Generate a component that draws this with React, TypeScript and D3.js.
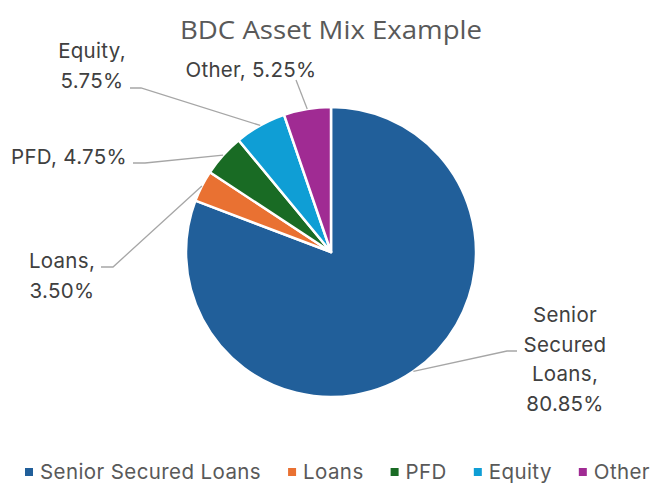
import React, { useRef, useEffect } from 'react';
import * as d3 from 'd3';

const categories = ['Senior Secured Loans', 'Loans', 'PFD', 'Equity', 'Other'];
const shares = [80.85, 3.5, 4.75, 5.75, 5.25];
const colors = ['#215F9A', '#E97132', '#196B24', '#0F9ED5', '#A02B93'];
// label text lines (as shown on the chart)
const labelLines = [
  ['Senior', 'Secured', 'Loans,', '80.85%'],
  ['Loans,', '3.50%'],
  ['PFD, 4.75%'],
  ['Equity,', '5.75%'],
  ['Other, 5.25%'],
];

// label placement: text anchor point + leader elbow
const labelLayout = [
  { x: 565, y: 315, anchor: 'middle', elbow: [517, 351], bend: [507, 351] },
  { x: 62, y: 261, anchor: 'middle', elbow: [101, 267], bend: [113, 267] },
  { x: 69, y: 157, anchor: 'middle', elbow: [133, 163], bend: [145, 163] },
  { x: 92, y: 51, anchor: 'middle', elbow: [130, 88], bend: [141, 88] },
  { x: 251, y: 70, anchor: 'middle', elbow: [296, 80], bend: [296, 80] },
];

const W = 652;
const H = 483;
const FONT = 'Inter, sans-serif';

const App = () => {
  const svgRef = useRef(null);

  useEffect(() => {
    const svg = d3.select(svgRef.current);
    svg.selectAll('*').remove();

    const cx = 331;
    const cy = 252;
    const r = 145;

    svg
      .append('text')
      .attr('x', cx)
      .attr('y', 39)
      .attr('text-anchor', 'middle')
      .attr('font-family', 'Open Sans, sans-serif')
      .attr('font-size', 26)
      .attr('fill', '#595959')
      .attr('textLength', 302)
      .attr('lengthAdjust', 'spacingAndGlyphs')
      .text('BDC Asset Mix Example');

    const pie = d3.pie<number>().sort(null).value((d) => d);
    const arcs = pie(shares);
    const arc = d3.arc<d3.PieArcDatum<number>>().innerRadius(0).outerRadius(r);

    const g = svg.append('g').attr('transform', `translate(${cx},${cy})`);
    g.selectAll('path')
      .data(arcs)
      .join('path')
      .attr('d', arc)
      .attr('fill', (d, i) => colors[i])
      .attr('stroke', '#fff')
      .attr('stroke-width', 2.5)
      .attr('stroke-linejoin', 'round');

    // leader lines + labels
    arcs.forEach((a, i) => {
      const mid = (a.startAngle + a.endAngle) / 2;
      const ex = cx + r * Math.sin(mid);
      const ey = cy - r * Math.cos(mid);
      const L = labelLayout[i];
      svg
        .append('path')
        .attr(
          'd',
          `M${L.elbow[0]},${L.elbow[1]}L${L.bend[0]},${L.bend[1]}L${ex},${ey}`
        )
        .attr('fill', 'none')
        .attr('stroke', '#a6a6a6')
        .attr('stroke-width', 1.3);

      const t = svg
        .append('text')
        .attr('text-anchor', L.anchor)
        .attr('font-family', FONT)
        .attr('font-size', 20.5)
        .attr('letter-spacing', 0.3)
        .attr('fill', '#404040');
      labelLines[i].forEach((line, j) => {
        t.append('tspan')
          .attr('x', L.x)
          .attr('y', L.y + j * 29.5)
          .attr('dy', '0.35em')
          .text(line);
      });
    });

    // legend
    const leg = svg.append('g');
    const items = leg.selectAll('g').data(categories).join('g');
    items
      .append('rect')
      .attr('width', 8)
      .attr('height', 8)
      .attr('y', -4)
      .attr('fill', (d, i) => colors[i]);
    items
      .append('text')
      .attr('x', 15)
      .attr('dy', '0.35em')
      .attr('font-family', FONT)
      .attr('font-size', 20.5)
      .attr('letter-spacing', 0.4)
      .attr('fill', '#595959')
      .text((d) => d);

    let x = 0;
    const gap = 27;
    items.each(function () {
      const node = this as SVGGElement;
      d3.select(node).attr('transform', `translate(${x},0)`);
      x += node.getBBox().width + gap;
    });
    leg.attr('transform', `translate(25,472)`);
  }, []);

  return (
    <svg
      ref={svgRef}
      width={W}
      height={H}
      style={{ position: 'absolute', left: 0, top: 0, background: '#fff' }}
    />
  );
};

export default App;
